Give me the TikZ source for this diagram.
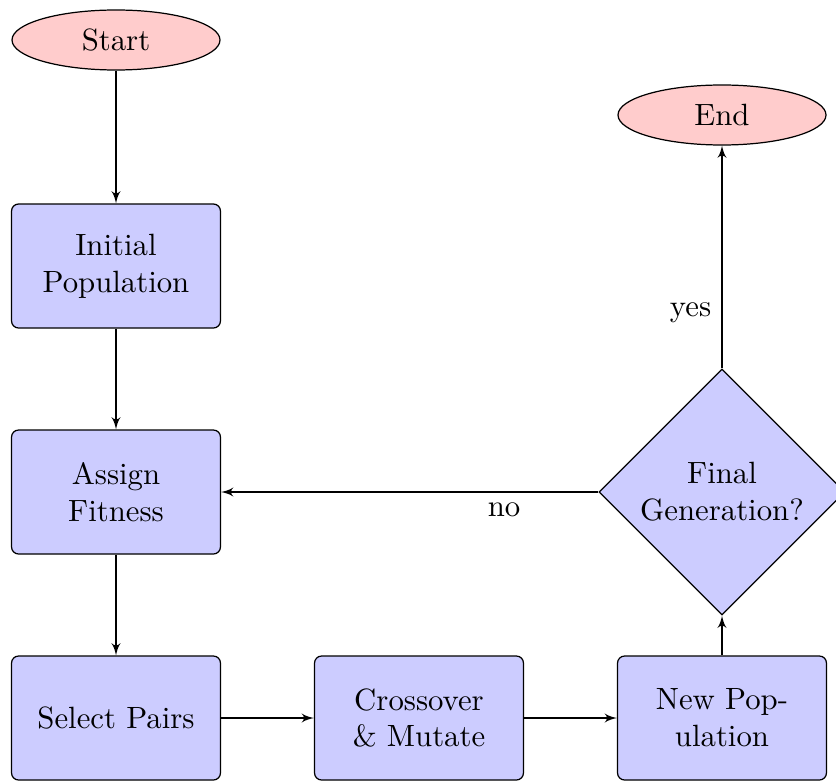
\documentclass[tikz,border=0pt]{standalone}
\usepackage{amsmath,amssymb}
\usepackage{tikz}
\usetikzlibrary{shapes, arrows}

\begin{document}
\begin{tikzpicture}[x=0.325pt, y=-0.325pt,
	block/.style={draw, rectangle, fill=blue!20, rounded corners=2.3pt,
		text width=5.8em, align=center, minimum width=67.9pt, minimum height=40.3pt},
	decision/.style={draw, diamond, aspect=1, fill=blue!20, inner sep=0pt,
		align=center, minimum width=80pt, minimum height=80pt},
	terminal/.style={draw, ellipse, fill=red!20, inner sep=0pt,
		minimum width=67.6pt, minimum height=19.5pt},
	flow/.style={draw, -latex'},
	]
	\useasboundingbox (0,0) rectangle (836,780);
	\node[terminal] (start) at (116, 40) {Start};
	\node[block] (init) at (116, 266) {Initial\\Population};
	\node[block] (assign) at (116, 492) {Assign\\Fitness};
	\node[block] (select) at (116, 718) {Select Pairs};
	\node[block] (cross) at (419, 718) {Crossover\\\& Mutate};
	\node[block] (newpop) at (722, 718) {New Pop-\\ulation};
	\node[decision] (final) at (722, 492) {Final\\Generation?};
	\node[terminal] (end) at (722, 115) {End};
	
	\draw[flow] (start) -- (init);
	\draw[flow] (init) -- (assign);
	\draw[flow] (assign) -- (select);
	\draw[flow] (select) -- (cross);
	\draw[flow] (cross) -- (newpop);
	\draw[flow] (newpop) -- (final);
	\draw[flow] (final) -- node[near start, below] {no} (assign);
	\draw[flow] (final) -- node[near start, left] {yes} (end);
\end{tikzpicture}
\end{document}
